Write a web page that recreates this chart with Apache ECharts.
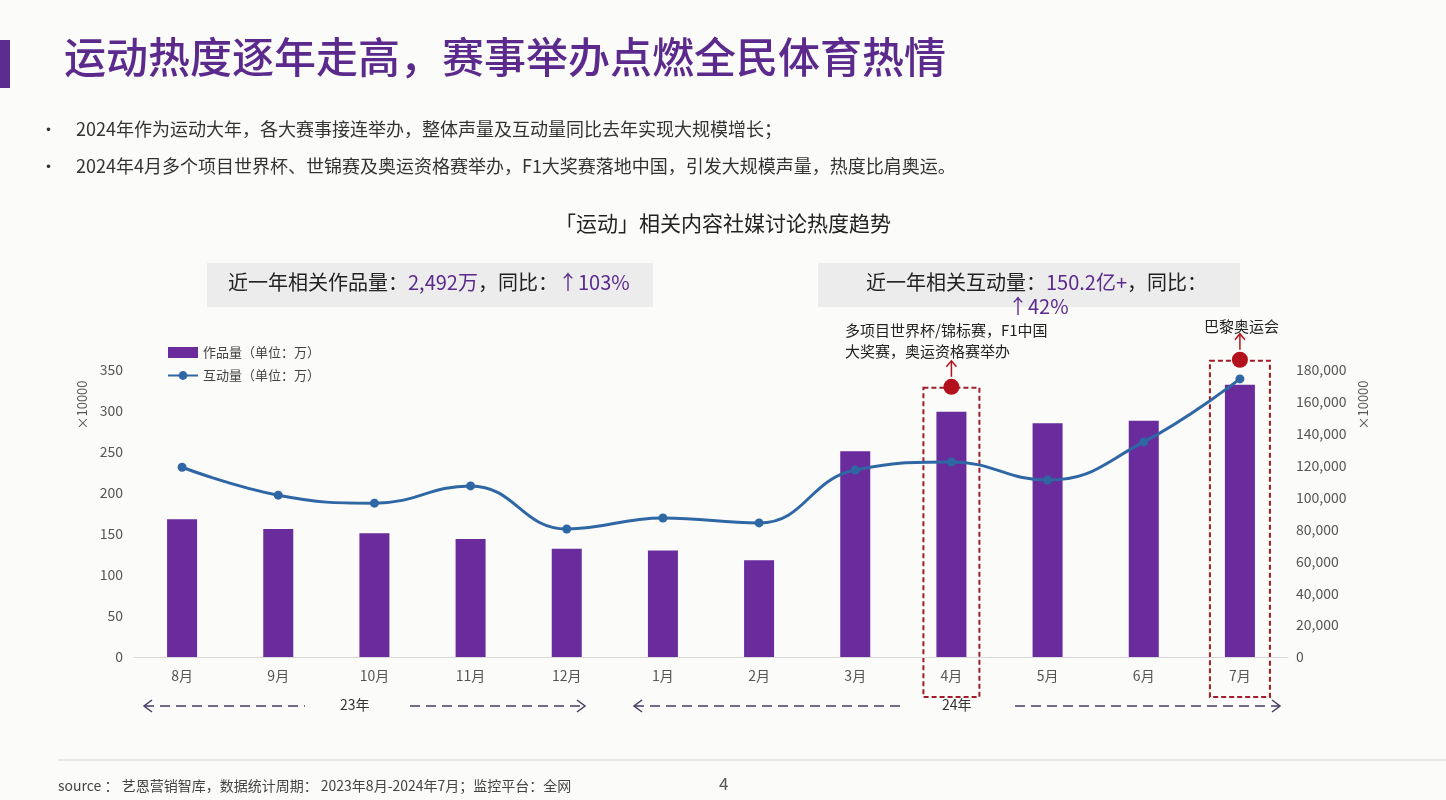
<!DOCTYPE html>
<html>
<head>
<meta charset="utf-8">
<script src="https://cdn.jsdelivr.net/npm/echarts@6/dist/echarts.min.js"></script>
<style>
  html, body { margin: 0; padding: 0; background: #fbfbf9; }
  #chart { width: 1446px; height: 800px; }
</style>
</head>
<body>
<div id="chart"></div>
<script>
// 数据
const months = ['8月', '9月', '10月', '11月', '12月', '1月', '2月', '3月', '4月', '5月', '6月', '7月']
const worksVolume = [168, 156, 151, 144, 132, 130, 118, 251, 299, 285, 288, 332]          // 作品量，×10000
const interactions = [119000, 101500, 96500, 107300, 80300, 87200, 84100, 117300, 122300, 111000, 134900, 174400] // 互动量，×10000
const leftTicks = { min: 0, max: 350, interval: 50 }
const rightTicks = { min: 0, max: 180000, interval: 20000 }
const highlights = ['4月', '7月']

const FONT = '"Noto Sans CJK SC", "Noto Sans", sans-serif'
const PURPLE = '#6a2c9d'
const BLUE = '#2f67a5'
const RED = '#b3121c'

const chart = echarts.init(document.getElementById('chart'))

const baseGraphics = [
  // 左侧色条 + 标题
  { type: 'rect', left: 0, top: 40, shape: { width: 10, height: 48 }, style: { fill: '#5d2a8e' } },
  { type: 'text', left: 64, top: 36, style: { text: '运动热度逐年走高，赛事举办点燃全民体育热情', font: '500 42px ' + FONT, fill: '#5b2a8c' } },
  // 要点
  { type: 'text', left: 40, top: 121, style: { text: '•', font: '17px ' + FONT, fill: '#333' } },
  { type: 'text', left: 76, top: 120, style: { text: '2024年作为运动大年，各大赛事接连举办，整体声量及互动量同比去年实现大规模增长；', font: '18px ' + FONT, fill: '#333' } },
  { type: 'text', left: 40, top: 158, style: { text: '•', font: '17px ' + FONT, fill: '#333' } },
  { type: 'text', left: 76, top: 157, style: { text: '2024年4月多个项目世界杯、世锦赛及奥运资格赛举办，F1大奖赛落地中国，引发大规模声量，热度比肩奥运。', font: '18px ' + FONT, fill: '#333' } },
  // 图表标题
  { type: 'text', left: 'center', top: 213, style: { text: '「运动」相关内容社媒讨论热度趋势', font: '21px ' + FONT, fill: '#222' } },
  // 两个汇总框
  { type: 'rect', left: 207, top: 263, shape: { width: 446, height: 44 }, style: { fill: '#ececec' } },
  {
    type: 'text', left: 228, top: 272,
    style: {
      text: '{a|近一年相关作品量：}{b|2,492万}{a|，同比：}{b|↑103%}',
      rich: { a: { font: '20px ' + FONT, fill: '#222' }, b: { font: '20px ' + FONT, fill: '#5b2a8c' } }
    }
  },
  { type: 'rect', left: 818, top: 263, shape: { width: 422, height: 44 }, style: { fill: '#ececec' } },
  {
    type: 'text', left: 866, top: 272,
    style: {
      text: '{a|近一年相关互动量：}{b|150.2亿+}{a|，同比：}',
      rich: { a: { font: '20px ' + FONT, fill: '#222' }, b: { font: '20px ' + FONT, fill: '#5b2a8c' } }
    }
  },
  { type: 'text', left: 1008, top: 296, style: { text: '↑42%', font: '20px ' + FONT, fill: '#5b2a8c' } },
  // 注释文字
  { type: 'text', left: 845, top: 320, style: { text: '多项目世界杯/锦标赛，F1中国\n大奖赛，奥运资格赛举办', font: '15px ' + FONT, fill: '#222', lineHeight: 21 } },
  { type: 'text', left: 1204, top: 319, style: { text: '巴黎奥运会', font: '15px ' + FONT, fill: '#222' } },
  // 坐标单位（自下而上）
  { type: 'text', x: 82, y: 405, rotation: Math.PI / 2, style: { text: '×10000', font: '13px ' + FONT, fill: '#555', align: 'center', verticalAlign: 'middle' } },
  { type: 'text', x: 1363, y: 405, rotation: Math.PI / 2, style: { text: '×10000', font: '13px ' + FONT, fill: '#555', align: 'center', verticalAlign: 'middle' } },
  // 年份分隔
  { type: 'text', left: 340, top: 698, style: { text: '23年', font: '14px ' + FONT, fill: '#333' } },
  { type: 'text', left: 942, top: 698, style: { text: '24年', font: '14px ' + FONT, fill: '#333' } },
  // 底部
  { type: 'line', shape: { x1: 58, y1: 760, x2: 1446, y2: 760 }, style: { stroke: '#d5d5d5', lineWidth: 1 } },
  { type: 'text', left: 58, top: 779, style: { text: 'source ： 艺恩营销智库，数据统计周期： 2023年8月-2024年7月；监控平台：全网', font: '14px ' + FONT, fill: '#444' } },
  { type: 'text', left: 719, top: 775, style: { text: '4', font: '17px ' + FONT, fill: '#555' } }
]

// 年份箭头
function arrowLine(x1, x2, y, head) {
  const items = [{ type: 'line', shape: { x1, y1: y, x2, y2: y }, style: { stroke: '#4a3a66', lineWidth: 1.5, lineDash: [10, 6] } }]
  const hx = head === 'left' ? x1 : x2
  const d = head === 'left' ? 8 : -8
  items.push({ type: 'polyline', shape: { points: [[hx + d, y - 6], [hx, y], [hx + d, y + 6]] }, style: { stroke: '#4a3a66', lineWidth: 1.5, fill: null } })
  return items
}

const yearArrows = [
  ...arrowLine(144, 305, 706, 'left'),
  ...arrowLine(410, 585, 706, 'right'),
  ...arrowLine(634, 905, 706, 'left'),
  ...arrowLine(1015, 1280, 706, 'right')
]

chart.setOption({
  backgroundColor: '#fbfbf9',
  textStyle: { fontFamily: FONT },
  legend: {
    left: 162, top: 341, orient: 'vertical', itemGap: 10,
    itemWidth: 30, itemHeight: 11,
    textStyle: { fontSize: 13, color: '#444' },
    data: [
      { name: '作品量（单位：万）', icon: 'rect' },
      { name: '互动量（单位：万）' }
    ]
  },
  grid: { left: 134, right: 158, top: 370, bottom: 143 },
  xAxis: {
    type: 'category',
    data: months,
    axisTick: { show: false },
    axisLine: { lineStyle: { color: '#d9d9d9' } },
    axisLabel: { color: '#555', fontSize: 14, margin: 12 }
  },
  yAxis: [
    {
      type: 'value', ...leftTicks,
      splitLine: { show: false },
      axisLine: { show: false },
      axisLabel: { color: '#555', fontSize: 14, margin: 11 }
    },
    {
      type: 'value', ...rightTicks,
      splitLine: { show: false },
      axisLine: { show: false },
      axisLabel: { color: '#555', fontSize: 14, margin: 8, formatter: v => v.toLocaleString('en-US') }
    }
  ],
  series: [
    {
      name: '作品量（单位：万）', type: 'bar', data: worksVolume, barWidth: 30,
      itemStyle: { color: PURPLE }
    },
    {
      name: '互动量（单位：万）', type: 'line', yAxisIndex: 1, data: interactions,
      smooth: 0.45, symbol: 'circle', symbolSize: 9,
      lineStyle: { width: 3, color: BLUE }, itemStyle: { color: BLUE }
    }
  ],
  graphic: baseGraphics.concat(yearArrows)
})

// 高亮月份的虚线框、红点和箭头，按坐标换算位置
function drawHighlights() {
  const extra = []
  highlights.forEach(m => {
    const idx = months.indexOf(m)
    const [cx, barTop] = chart.convertToPixel({ seriesIndex: 0 }, [idx, worksVolume[idx]])
    const dotY = barTop - 25
    const halfW = m === '7月' ? 30 : 28
    extra.push({ type: 'rect', shape: { x: cx - halfW, y: dotY + 1, width: halfW * 2, height: 697 - dotY - 1 }, style: { fill: null, stroke: '#a01c28', lineWidth: 2, lineDash: [5, 3] } })
    extra.push({ type: 'circle', shape: { cx, cy: dotY, r: 8 }, style: { fill: RED } })
    extra.push({ type: 'line', shape: { x1: cx, y1: dotY - 10, x2: cx, y2: dotY - 26 }, style: { stroke: RED, lineWidth: 1.5 } })
    extra.push({ type: 'polyline', shape: { points: [[cx - 5, dotY - 20], [cx, dotY - 26], [cx + 5, dotY - 20]] }, style: { stroke: RED, lineWidth: 1.5, fill: null } })
  })
  chart.setOption({ graphic: baseGraphics.concat(yearArrows, extra) }, { replaceMerge: ['graphic'] })
}
drawHighlights()
</script>
</body>
</html>
